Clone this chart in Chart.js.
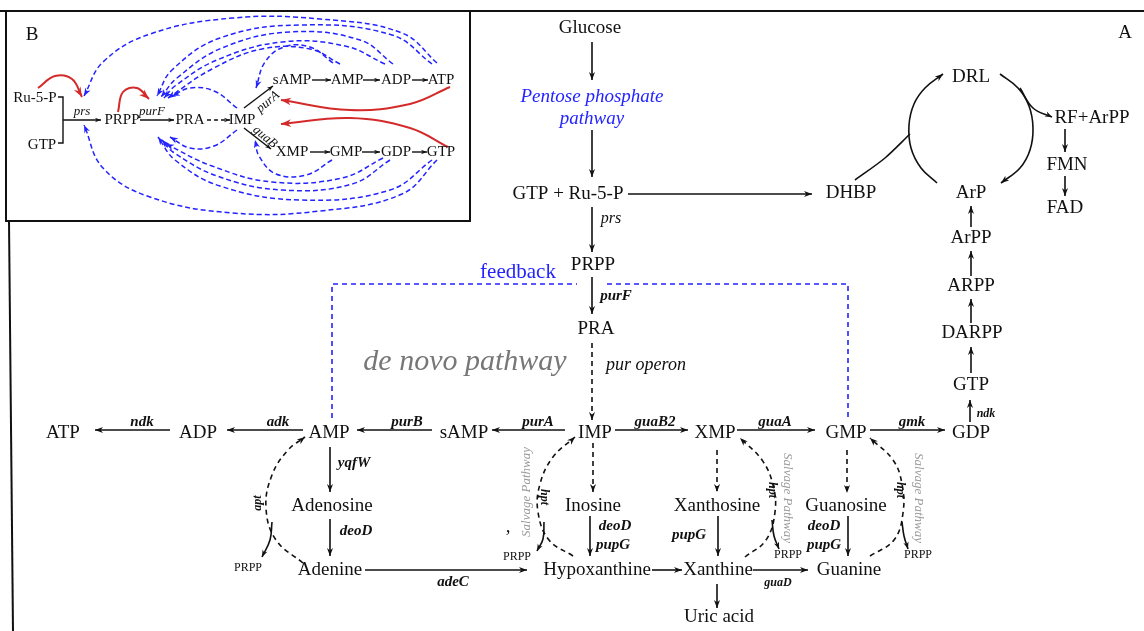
<!DOCTYPE html>
<html>
<head>
<meta charset="utf-8">
<script src="https://cdn.jsdelivr.net/npm/chart.js@4.4.0/dist/chart.umd.min.js"></script>
<style>
    html, body { margin: 0; padding: 0; background: #fff; overflow: hidden; }
    canvas { display: block; }
</style>
</head>
<body>
<canvas id="myChart" width="1144" height="631"></canvas>
<script>
// ---- content: the words on the diagram ----
const metabolites = ["Glucose", "GTP + Ru-5-P", "DHBP", "PRPP", "PRA", "IMP", "sAMP", "AMP", "ADP", "ATP",
    "XMP", "GMP", "GDP", "GTP", "DARPP", "ARPP", "ArPP", "ArP", "DRL", "RF+ArPP", "FMN", "FAD",
    "Adenosine", "Adenine", "Inosine", "Hypoxanthine", "Xanthosine", "Xanthine", "Uric acid", "Guanosine", "Guanine"];
const enzymes = ["purF", "purA", "purB", "adk", "ndk", "guaB2", "guaA", "gmk", "yqfW", "deoD",
    "deoD", "pupG", "pupG", "deoD", "pupG", "adeC"];
const minorEnzymes = ["ndk", "guaD", "apt", "hpt", "hpt", "hpt"];
const byProducts = ["PRPP", "PRPP", "PRPP", "PRPP"];
const insetMetabolites = ["Ru-5-P", "GTP", "PRPP", "PRA", "IMP", "sAMP", "AMP", "ADP", "ATP", "XMP", "GMP", "GDP", "GTP"];
const insetEnzymes = ["prs", "purF", "purA", "guaB"];
const notes = ["Pentose phosphate", "pathway", "feedback", "de novo pathway", "pur operon", "prs",
    "Salvage Pathway", "Salvage Pathway", "Salvage Pathway", "A", "B", ","];

// ---- layout: where each word sits (x, y in picture units) ----
const metabolitePos = [[590, 28], [568, 194], [851, 193], [593, 265], [596, 329], [595, 433], [464, 433], [329, 433], [198, 433], [63, 433],
    [715, 433], [846, 433], [971, 433], [971, 385], [972, 333], [971, 286], [971, 238], [971, 193], [971, 77], [1092, 118], [1067, 165], [1065, 208],
    [332, 506], [330, 570], [593, 506], [597, 570], [717, 506], [718, 570], [719, 617], [846, 506], [849, 570]];
const enzymePos = [[616, 296], [538, 422], [407, 422], [278, 422], [142, 422], [655, 422], [775, 422], [912, 422], [354, 463], [356, 531],
    [615, 526], [613, 545], [689, 535], [824, 526], [824, 545], [453, 582]];
const minorPos = [[986, 414, 0], [778, 583, 0], [258, 503, -90], [544, 497, 90], [772, 490, 90], [900, 490, 90]];
const byProductPos = [[248, 568], [517, 557], [788, 555], [918, 555]];
const insetPos = [[35, 98], [42, 145], [122, 120], [190, 120], [242, 120], [292, 80], [347, 80], [396, 80], [441, 80], [292, 152], [346, 152], [396, 152], [441, 152]];
const insetEnzPos = [[82, 112, 0], [152, 112, 0], [268, 102, -40], [265, 137, 40]];
const notePos = [[592, 97, 0], [592, 119, 0], [518, 272, 0], [465, 362, 0], [646, 365, 0], [611, 219, 0],
    [527, 492, -90], [787, 498, 90], [918, 498, 90], [1125, 33, 0], [32, 35, 0], [508, 527, 0]];
const noteStyle = ["pentose", "pentose", "feedback", "denovo", "operon", "prs",
    "salvage", "salvage", "salvage", "node", "node", "node"];

const BLACK = "#111", BLUE = "#2323ff", RED = "#d42a2a";
const SERIF = "'Liberation Serif', 'DejaVu Serif', serif";
const fonts = {
    node: "19px " + SERIF,
    inset: "15px " + SERIF,
    enz: "italic bold 15px " + SERIF,
    minor: "italic bold 12px " + SERIF,
    small: "12px " + SERIF,
    insetEnz: "italic 13px " + SERIF,
    pentose: "italic 19px " + SERIF,
    feedback: "21px " + SERIF,
    denovo: "italic 30px " + SERIF,
    operon: "italic 18px " + SERIF,
    prs: "italic 16px " + SERIF,
    salvage: "italic 13px " + SERIF
};
const colors = { pentose: BLUE, feedback: BLUE, denovo: "#777", salvage: "#999" };

// ---- arrows and lines: waypoints ----
const straight = [
    [[592, 42], [592, 80]], [[592, 130], [592, 177]], [[628, 194], [812, 194]], [[592, 207], [592, 252]],
    [[592, 277], [592, 314]],
    [[565, 430], [492, 430]], [[432, 430], [357, 430]], [[303, 430], [227, 430]], [[170, 430], [95, 430]],
    [[615, 430], [688, 430]], [[737, 430], [815, 430]], [[870, 430], [945, 430]],
    [[970, 422], [970, 400]], [[971, 373], [971, 347]], [[971, 323], [971, 299]], [[971, 276], [971, 251]], [[971, 227], [971, 206]],
    [[1065, 129], [1065, 152]], [[1065, 176], [1065, 196]],
    [[330, 447], [330, 492]], [[330, 519], [330, 556]], [[365, 570], [527, 570]],
    [[590, 516], [590, 556]], [[652, 570], [682, 570]], [[718, 516], [718, 556]], [[717, 584], [717, 608]],
    [[753, 570], [808, 570]], [[848, 516], [848, 556]]
];
const dashed = [
    [[592, 343], [592, 420]], [[593, 443], [593, 492]], [[717, 450], [717, 492]], [[847, 450], [847, 493]]
];
const salvageArcs = [
    [[303, 563], [276, 540], [266, 508], [272, 475], [288, 450], [305, 437]],
    [[573, 556], [549, 540], [538, 512], [540, 484], [553, 457], [575, 437]],
    [[745, 557], [766, 540], [775, 512], [773, 485], [762, 460], [740, 438]],
    [[870, 556], [894, 540], [903, 513], [902, 484], [893, 460], [870, 438]]
];
const prppArcs = [
    [[272, 522], [270, 540], [262, 557]],
    [[544, 522], [543, 539], [537, 551]],
    [[772, 520], [774, 536], [779, 549]],
    [[902, 522], [904, 536], [908, 549]]
];
const cycle = [
    [[937, 183], [921, 168], [911, 148], [909, 125], [914, 104], [925, 88], [943, 74]],
    [[1000, 74], [1018, 88], [1029, 106], [1033, 128], [1030, 150], [1020, 168], [1001, 183]],
    [[1020, 88], [1033, 108], [1052, 117]]
];
const feedbackLines = [
    [[332, 418], [332, 284], [577, 284]], [[607, 284], [848, 284], [848, 418]]
];
const insetStraight = [
    [[63, 120], [101, 120]], [[140, 120], [174, 120]], [[244, 108], [273, 86]], [[244, 128], [271, 149]],
    [[312, 80], [331, 80]], [[363, 80], [380, 80]], [[412, 80], [428, 80]],
    [[310, 152], [330, 152]], [[362, 152], [380, 152]], [[412, 152], [427, 152]]
];
const insetRed = [
    [[38, 88], [55, 76], [72, 79], [82, 97]],
    [[118, 112], [123, 92], [137, 88], [149, 99]],
    [[450, 87], [410, 104], [350, 110], [281, 100]],
    [[448, 147], [410, 128], [350, 118], [281, 124]]
];
const insetBlue = [
    [[437, 63], [402, 33], [320, 19], [233, 18], [150, 34], [103, 62], [84, 96]],
    [[432, 64], [392, 35], [300, 25], [220, 38], [172, 70], [157, 96]],
    [[393, 64], [360, 40], [290, 32], [222, 48], [177, 78], [161, 97]],
    [[385, 64], [345, 46], [282, 42], [217, 60], [175, 86], [164, 98]],
    [[340, 64], [310, 49], [262, 49], [212, 69], [168, 98]],
    [[333, 63], [310, 47], [284, 47], [265, 62], [256, 88]],
    [[237, 108], [214, 91], [190, 88], [172, 96]],
    [[437, 160], [402, 194], [320, 211], [233, 213], [150, 197], [103, 168], [84, 125]],
    [[432, 160], [390, 190], [300, 200], [220, 186], [175, 160], [158, 137]],
    [[390, 160], [352, 184], [282, 190], [217, 176], [173, 152], [162, 140]],
    [[383, 158], [342, 178], [272, 182], [212, 166], [166, 144]],
    [[332, 160], [306, 175], [276, 174], [259, 156], [255, 140]],
    [[237, 130], [214, 146], [190, 148], [170, 137]]
];
const frameLines = [
    [[0, 11], [1144, 11]], [[9, 221], [13, 631]],
    [[6, 11], [6, 221], [470, 221], [470, 11]]
];

const path = (pts, opts) => Object.assign({
    data: pts.map(p => ({ x: p[0], y: p[1] })),
    showLine: true,
    pointRadius: 0,
    borderColor: BLACK,
    borderWidth: 1.6,
    tension: 0,
    fill: false,
    arrow: true,
    arrowSize: 8
}, opts);

const datasets = [];
frameLines.forEach(p => datasets.push(path(p, { borderWidth: 2, arrow: false })));
straight.forEach(p => datasets.push(path(p)));
dashed.forEach(p => datasets.push(path(p, { borderDash: [5, 4] })));
salvageArcs.forEach(p => datasets.push(path(p, { borderDash: [5, 4], tension: 0.4 })));
prppArcs.forEach(p => datasets.push(path(p, { tension: 0.4, arrowSize: 7 })));
datasets.push(path(cycle[0], { tension: 0.4 }));
datasets.push(path(cycle[1], { tension: 0.4 }));
datasets.push(path(cycle[2], { tension: 0.4, arrowSize: 7 }));
datasets.push(path([[855, 180], [885, 158], [910, 134]], { tension: 0.3, arrow: false }));
feedbackLines.forEach(p => datasets.push(path(p, { borderColor: BLUE, borderDash: [5, 4], arrow: false })));
insetStraight.forEach(p => datasets.push(path(p, { borderWidth: 1.4, arrowSize: 6 })));
datasets.push(path([[207, 120], [230, 120]], { borderWidth: 1.4, arrowSize: 6, borderDash: [4, 3] }));
datasets.push(path([[58, 97], [63, 97], [63, 143], [58, 143]], { borderWidth: 1.4, arrow: false }));
insetRed.forEach(p => datasets.push(path(p, { borderColor: RED, borderWidth: 2, tension: 0.4, arrowSize: 10 })));
insetBlue.forEach(p => datasets.push(path(p, { borderColor: BLUE, borderWidth: 1.5, borderDash: [5, 3], tension: 0.4, arrowSize: 8 })));

// draw arrowheads at the end of each path, along its last bezier tangent
const arrowPlugin = {
    id: "arrows",
    afterDatasetsDraw(chart) {
        const ctx = chart.ctx;
        chart.data.datasets.forEach((ds, i) => {
            if (!ds.arrow) return;
            const pts = chart.getDatasetMeta(i).data;
            const last = pts[pts.length - 1];
            let fx = pts[pts.length - 2].x, fy = pts[pts.length - 2].y;
            if (ds.tension > 0 && last.cp1x !== undefined && Math.hypot(last.x - last.cp1x, last.y - last.cp1y) > 0.5) {
                fx = last.cp1x;
                fy = last.cp1y;
            }
            const a = Math.atan2(last.y - fy, last.x - fx);
            const s = ds.arrowSize;
            ctx.save();
            ctx.fillStyle = ds.borderColor;
            ctx.translate(last.x, last.y);
            ctx.rotate(a);
            ctx.beginPath();
            ctx.moveTo(0, 0);
            ctx.lineTo(-s, -s * 0.38);
            ctx.lineTo(-s * 0.7, 0);
            ctx.lineTo(-s, s * 0.38);
            ctx.closePath();
            ctx.fill();
            ctx.restore();
        });
    }
};

// write every label through the chart scales
const labelPlugin = {
    id: "labels",
    afterDatasetsDraw(chart) {
        const ctx = chart.ctx;
        const sx = chart.scales.x, sy = chart.scales.y;
        const put = (text, p, font, color, rot) => {
            ctx.save();
            ctx.font = font;
            ctx.fillStyle = color || BLACK;
            ctx.textAlign = "center";
            ctx.textBaseline = "middle";
            ctx.translate(sx.getPixelForValue(p[0]), sy.getPixelForValue(p[1]));
            if (rot) ctx.rotate(rot * Math.PI / 180);
            ctx.fillText(text, 0, 0);
            ctx.restore();
        };
        metabolites.forEach((t, i) => put(t, metabolitePos[i], fonts.node));
        enzymes.forEach((t, i) => put(t, enzymePos[i], fonts.enz));
        minorEnzymes.forEach((t, i) => put(t, minorPos[i], fonts.minor, BLACK, minorPos[i][2]));
        byProducts.forEach((t, i) => put(t, byProductPos[i], fonts.small));
        insetMetabolites.forEach((t, i) => put(t, insetPos[i], fonts.inset));
        insetEnzymes.forEach((t, i) => put(t, insetEnzPos[i], fonts.insetEnz, BLACK, insetEnzPos[i][2]));
        notes.forEach((t, i) => put(t, notePos[i], fonts[noteStyle[i]], colors[noteStyle[i]], notePos[i][2]));
    }
};

const ctx = document.getElementById("myChart").getContext("2d");
const myChart = new Chart(ctx, {
    type: "scatter",
    data: { datasets },
    options: {
        responsive: false,
        devicePixelRatio: 1,
        animation: false,
        events: [],
        layout: { padding: 0 },
        plugins: { legend: { display: false }, tooltip: { enabled: false } },
        scales: {
            x: { type: "linear", min: 0, max: 1144, display: false },
            y: { type: "linear", min: 0, max: 631, reverse: true, display: false }
        }
    },
    plugins: [arrowPlugin, labelPlugin]
});
</script>
</body>
</html>
